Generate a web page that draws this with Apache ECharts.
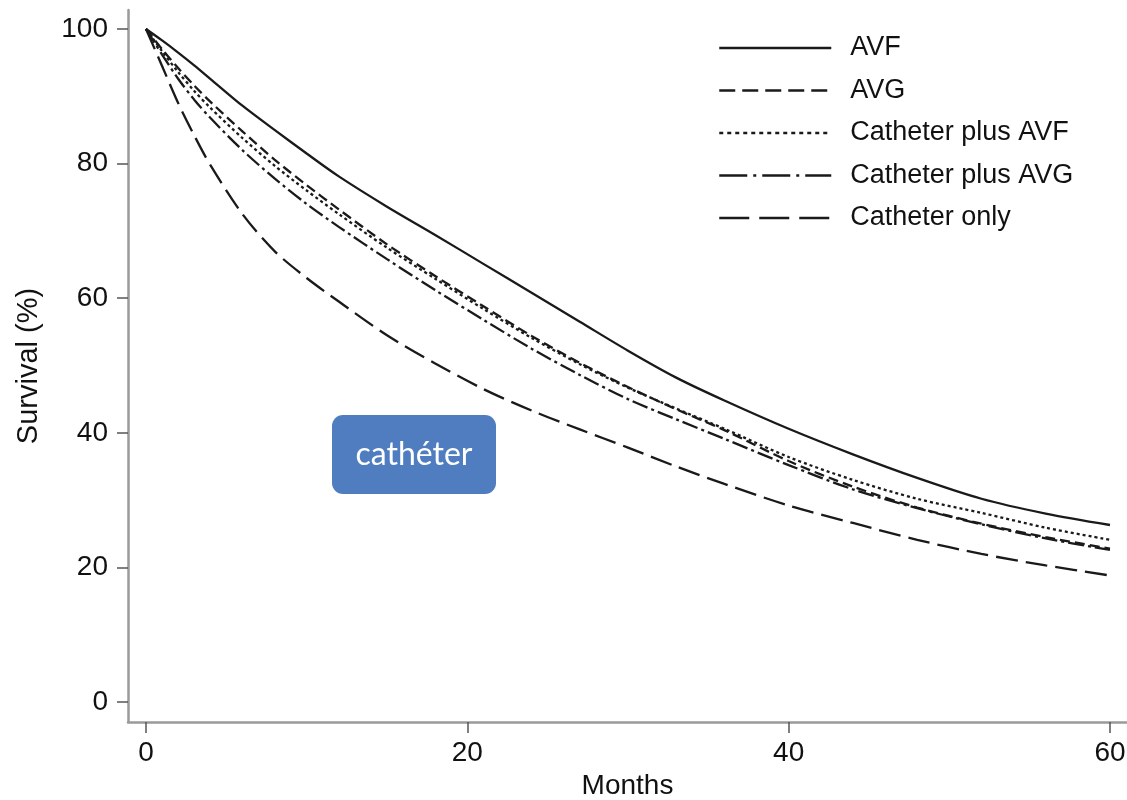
<!DOCTYPE html>
<html>
<head>
<meta charset="utf-8">
<title>Survival by vascular access</title>
<script src="https://cdn.jsdelivr.net/npm/echarts@6/dist/echarts.min.js"></script>
<style>
  html, body { margin: 0; padding: 0; background: #fff; }
  #chart { width: 1127px; height: 800px; }
</style>
</head>
<body>
<div id="chart"></div>
<script>
const months = [0, 1, 2, 3, 4, 6, 8, 10, 12, 15, 18, 21, 24, 27, 30, 33, 36, 40, 44, 48, 52, 56, 60];

// survival (%) per access type
const avf = [100, 98.3, 96.5, 94.6, 92.6, 88.6, 85, 81.5, 78.1, 73.6, 69.4, 65.1, 60.8, 56.5, 52.2, 48.2, 44.8, 40.6, 36.8, 33.3, 30.2, 28, 26.3];
const avg = [100, 97, 94.2, 91.6, 89.2, 84.8, 80.6, 76.8, 73.2, 68, 63.3, 58.8, 54.4, 50.4, 46.8, 43.5, 40.4, 35.8, 32, 28.9, 26.5, 24.5, 22.8];
const cathAvf = [100, 96.7, 93.6, 90.8, 88.3, 83.8, 79.7, 76, 72.5, 67.5, 62.9, 58.4, 54.1, 50.2, 46.7, 43.6, 40.6, 36.4, 33, 30.2, 28.1, 25.9, 24.1];
const cathAvg = [100, 96.2, 92.6, 89.5, 86.8, 82, 77.8, 74, 70.6, 65.8, 61.2, 56.8, 52.5, 48.6, 45, 42, 39.1, 35.2, 31.6, 28.8, 26.4, 24.3, 22.6];
const cathOnly = [100, 94.5, 89, 84.2, 79.8, 72.5, 67, 63, 59.5, 54.5, 50.3, 46.5, 43.3, 40.5, 37.8, 35, 32.4, 29.2, 26.6, 24.1, 22, 20.3, 18.8];

const seriesNames = ["AVF", "AVG", "Catheter plus AVF", "Catheter plus AVG", "Catheter only"];
const xTicks = [0, 20, 40, 60];
const yTicks = [0, 20, 40, 60, 80, 100];

const chart = echarts.init(document.getElementById("chart"));

const pairs = (ys) => months.map((m, i) => [m, ys[i]]);

const lineColor = "#1a1a1a";
const font = "'Liberation Sans', Arial, sans-serif";

// dash patterns in the plot and in the legend differ a bit
const plotDash = ["solid", [10, 5], [3, 3], [16, 4, 3, 4], [22, 8]];
const legendDash = ["solid", [16, 7], [4, 4], [28, 6, 3, 6], [30, 10]];
const allData = [avf, avg, cathAvf, cathAvg, cathOnly];

const option = {
  backgroundColor: "#fff",
  animation: false,
  grid: {
    left: 128,
    right: 0,
    top: 10,
    bottom: 78,
    outerBoundsMode: "none",
  },
  legend: {
    orient: "vertical",
    left: 718,
    top: 33,
    padding: 0,
    itemWidth: 112,
    itemHeight: 14,
    itemGap: 12.5,
    data: seriesNames.map((name, i) => ({
      name: name,
      lineStyle: { type: legendDash[i], width: 2.5, color: lineColor },
      itemStyle: { opacity: 0 },
    })),
    textStyle: {
      fontFamily: font,
      fontSize: 27,
      lineHeight: 30,
      color: "#111",
      padding: [0, 0, 0, 14],
    },
  },
  xAxis: {
    type: "value",
    min: -1.12,
    max: 61.06,
    name: "Months",
    nameLocation: "middle",
    nameGap: 45,
    nameTextStyle: { fontFamily: font, fontSize: 28, color: "#111" },
    splitLine: { show: false },
    axisLine: { onZero: false, lineStyle: { color: "#9a9a9a", width: 2.5 } },
    axisTick: {
      customValues: xTicks,
      length: 11,
      lineStyle: { color: "#555", width: 1.5 },
    },
    axisLabel: {
      customValues: xTicks,
      margin: 17,
      fontFamily: font,
      fontSize: 28,
      color: "#111",
    },
  },
  yAxis: {
    type: "value",
    min: -2.97,
    max: 102.82,
    name: "Survival (%)",
    nameLocation: "middle",
    nameGap: 85,
    nameTextStyle: { fontFamily: font, fontSize: 29, color: "#111" },
    splitLine: { show: false },
    axisLine: { show: true, onZero: false, lineStyle: { color: "#9a9a9a", width: 2.5 } },
    axisTick: {
      show: true,
      customValues: yTicks,
      length: 11,
      lineStyle: { color: "#555", width: 1.5 },
    },
    axisLabel: {
      customValues: yTicks,
      margin: 20,
      fontFamily: font,
      fontSize: 28,
      color: "#111",
    },
  },
  series: seriesNames.map((name, i) => ({
    name: name,
    type: "line",
    data: pairs(allData[i]),
    smooth: 0.3,
    symbol: "none",
    lineStyle: { color: lineColor, width: 2.3, type: plotDash[i] },
    itemStyle: { color: lineColor },
  })),
  graphic: [
    {
      type: "group",
      left: 332,
      top: 415,
      children: [
        {
          type: "rect",
          shape: { x: 0, y: 0, width: 164, height: 79, r: 11 },
          style: { fill: "#4f7dc0" },
        },
        {
          type: "text",
          x: 82,
          y: 40,
          style: {
            text: "cathéter",
            fill: "#fff",
            font: "32px Lato, 'Open Sans', sans-serif",
            align: "center",
            verticalAlign: "middle",
          },
        },
      ],
    },
  ],
};

chart.setOption(option);
</script>
</body>
</html>
